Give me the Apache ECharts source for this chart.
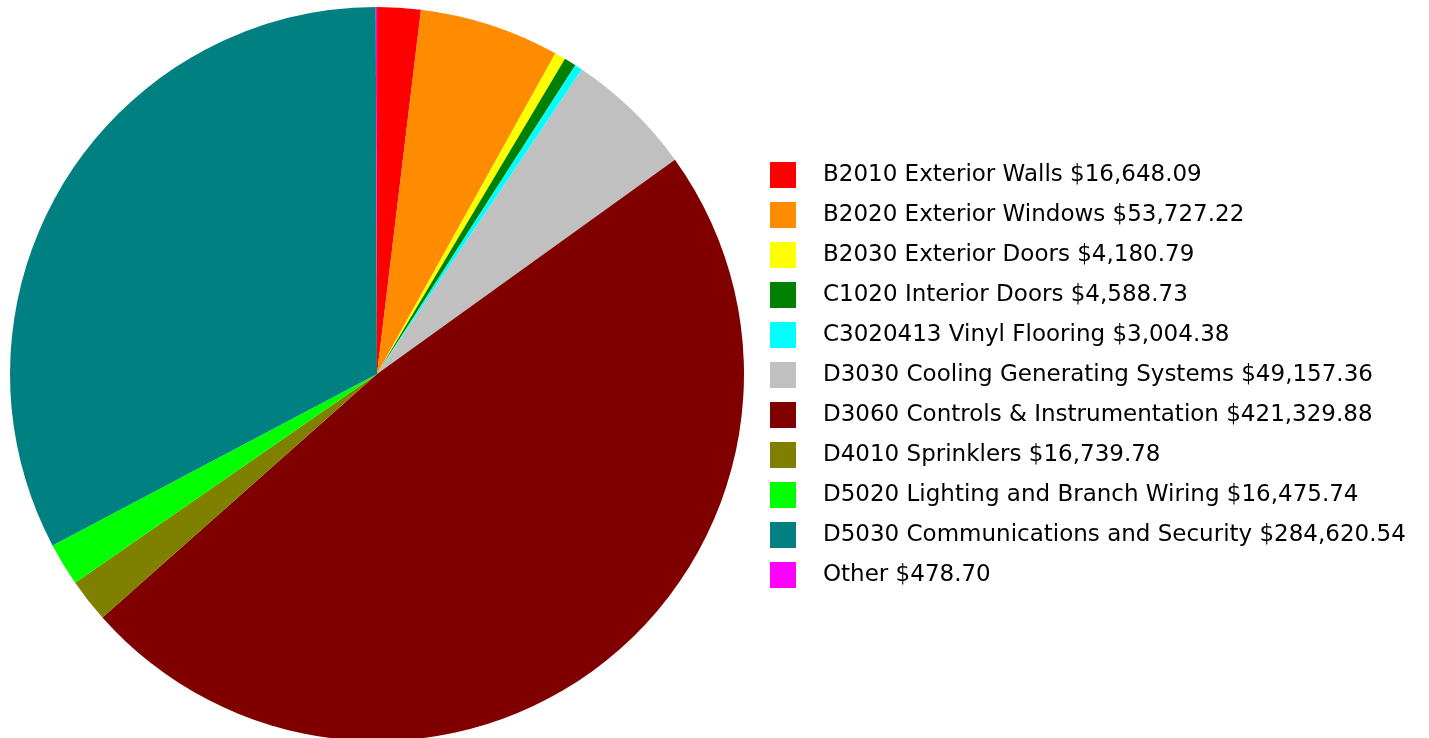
<!DOCTYPE html>
<html>
<head>
<meta charset="utf-8">
<script src="https://cdn.jsdelivr.net/npm/echarts@6/dist/echarts.min.js"></script>
<style>
  html, body { margin: 0; padding: 0; background: #ffffff; }
  #chart { width: 1429px; height: 738px; }
</style>
</head>
<body>
<div id="chart"></div>
<script>
// Cost breakdown by building system
const categories = [
  'B2010 Exterior Walls',
  'B2020 Exterior Windows',
  'B2030 Exterior Doors',
  'C1020 Interior Doors',
  'C3020413 Vinyl Flooring',
  'D3030 Cooling Generating Systems',
  'D3060 Controls & Instrumentation',
  'D4010 Sprinklers',
  'D5020 Lighting and Branch Wiring',
  'D5030 Communications and Security',
  'Other'
];
const costs = [
  16648.09, 53727.22, 4180.79, 4588.73, 3004.38, 49157.36,
  421329.88, 16739.78, 16475.74, 284620.54, 478.70
];
const sliceColors = [
  '#FF0000', '#FF8C00', '#FFFF00', '#008000', '#00FFFF', '#C0C0C0',
  '#800000', '#808000', '#00FF00', '#008080', '#FF00FF'
];

const fmtMoney = v => '$' + v.toLocaleString('en-US', { minimumFractionDigits: 2, maximumFractionDigits: 2 });
const costByName = {};
categories.forEach((c, i) => { costByName[c] = costs[i]; });

const chart = echarts.init(document.getElementById('chart'), null, { renderer: 'canvas' });
chart.setOption({
  animation: false,
  color: sliceColors,
  legend: {
    orient: 'vertical',
    left: 770,
    top: 162,
    padding: 0,
    itemWidth: 26,
    itemHeight: 26,
    itemGap: 14,
    icon: 'rect',
    selectedMode: false,
    data: categories,
    formatter: name => name + ' ' + fmtMoney(costByName[name]),
    textStyle: {
      fontFamily: 'DejaVu Sans',
      fontSize: 23,
      color: '#000000',
      padding: [0, 0, 0, 22]
    }
  },
  series: [{
    type: 'pie',
    center: [377, 374],
    radius: 367,
    startAngle: 90,
    clockwise: true,
    silent: true,
    label: { show: false },
    labelLine: { show: false },
    itemStyle: { borderWidth: 0 },
    data: categories.map((c, i) => ({ name: c, value: costs[i] }))
  }]
});
</script>
</body>
</html>
